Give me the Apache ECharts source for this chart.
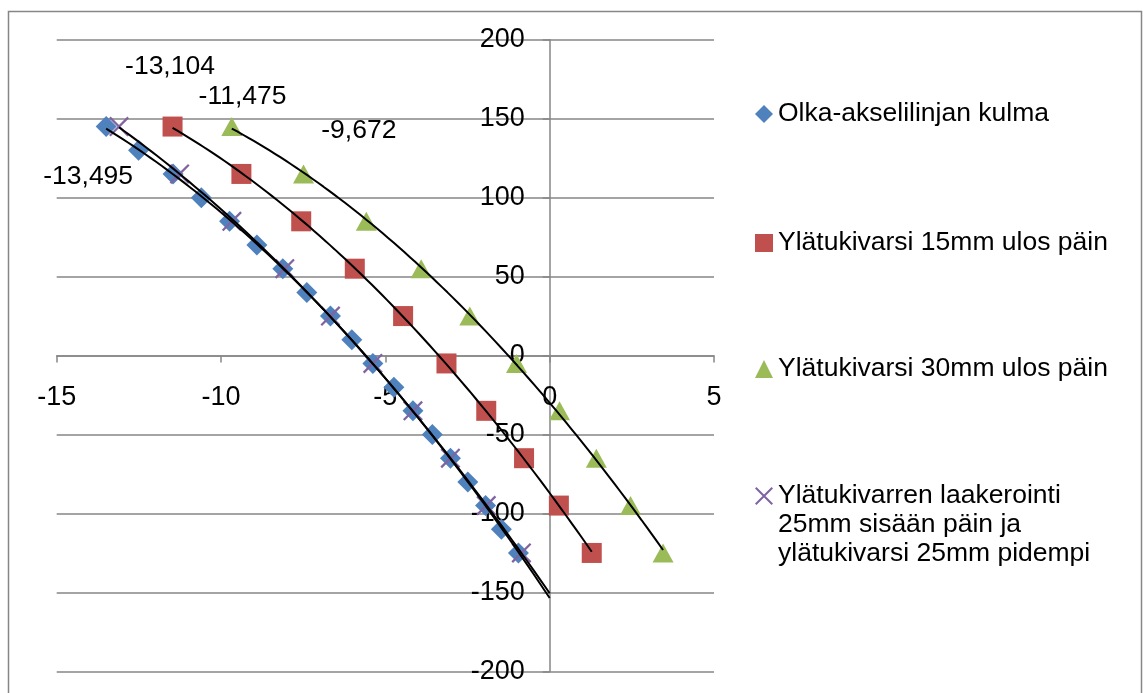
<!DOCTYPE html>
<html>
<head>
<meta charset="utf-8">
<script src="https://cdn.jsdelivr.net/npm/echarts@6/dist/echarts.min.js"></script>
<style>
  html, body { margin: 0; padding: 0; background: #fff; }
  #chart { width: 1143px; height: 693px; }
</style>
</head>
<body>
<div id="chart"></div>
<script>
// ---- Data ----
const seriesNames = [
  'Olka-akselilinjan kulma',
  'Ylätukivarsi 15mm ulos päin',
  'Ylätukivarsi 30mm ulos päin',
  'Ylätukivarren laakerointi\n25mm sisään päin ja\nylätukivarsi 25mm pidempi'
];
const yDense = [145, 130, 115, 100, 85, 70, 55, 40, 25, 10, -5, -20, -35, -50, -65, -80, -95, -110, -125];
const xBlue = [-13.495, -12.51, -11.46, -10.60, -9.74, -8.91, -8.12, -7.39, -6.67, -6.02, -5.38, -4.74, -4.16, -3.57, -3.02, -2.49, -1.95, -1.47, -0.95];
const ySparse = [145, 115, 85, 55, 25, -5, -35, -65, -95, -125];
const xRed = [-11.475, -9.38, -7.56, -5.93, -4.46, -3.14, -1.93, -0.78, 0.28, 1.28];
const xGreen = [-9.672, -7.49, -5.58, -3.91, -2.43, -1.01, 0.30, 1.42, 2.46, 3.45];
const xPurple = [-13.104, -11.26, -9.67, -8.06, -6.67, -5.38, -4.16, -3.02, -1.93, -0.86];
// trendline forward forecast end (x) for blue and purple series
const trendEndBlue = 0;
const trendEndPurple = 0;
const xTicks = { min: -15, max: 5, interval: 5 };
const yTicks = { min: -200, max: 200, interval: 50 };

// ---- Helpers ----
const colors = ['#4F81BD', '#C0504D', '#9BBB59', '#8064A2'];
const FONT = 'Liberation Sans, Arial, sans-serif';
const FS = 26.5;
const FS_AXIS = 27;

function polyFit2(xs, ys) {
  let S = [0,0,0,0,0], T = [0,0,0];
  for (let i = 0; i < xs.length; i++) {
    const x = xs[i], y = ys[i];
    let p = 1;
    for (let k = 0; k < 5; k++) { S[k] += p; if (k < 3) T[k] += p * y; p *= x; }
  }
  const M = [[S[0],S[1],S[2],T[0]],[S[1],S[2],S[3],T[1]],[S[2],S[3],S[4],T[2]]];
  for (let i = 0; i < 3; i++) {
    let piv = i;
    for (let r = i+1; r < 3; r++) if (Math.abs(M[r][i]) > Math.abs(M[piv][i])) piv = r;
    [M[i], M[piv]] = [M[piv], M[i]];
    for (let r = 0; r < 3; r++) {
      if (r === i) continue;
      const f = M[r][i] / M[i][i];
      for (let c = i; c < 4; c++) M[r][c] -= f * M[i][c];
    }
  }
  return [M[0][3]/M[0][0], M[1][3]/M[1][1], M[2][3]/M[2][2]];
}
function trend(xs, ys, xEnd) {
  const [a, b, c] = polyFit2(xs, ys);
  const x0 = Math.min(...xs);
  const x1 = xEnd != null ? Math.max(xEnd, Math.max(...xs)) : Math.max(...xs);
  const pts = [];
  const n = 80;
  for (let i = 0; i <= n; i++) {
    const x = x0 + (x1 - x0) * i / n;
    pts.push([x, a + b * x + c * x * x]);
  }
  return pts;
}
const fmtX = p => p.value[0].toFixed(3).replace('.', ',');

function scatterData(xs, ys, labelOffset) {
  return xs.map((x, i) => {
    const item = { value: [x, ys[i]] };
    if (i === 0 && labelOffset) {
      item.label = {
        show: true, position: 'inside', offset: labelOffset,
        formatter: fmtX, fontSize: FS, fontFamily: FONT, color: '#000',
        textBorderWidth: 0, opacity: 1
      };
    }
    return item;
  });
}

const X_PATH = 'path://M0,0.8L0.8,0L10,9.2L9.2,10Z M9.2,0L10,0.8L0.8,10L0,9.2Z';

function trendSeries(data) {
  return {
    type: 'line', data: data, showSymbol: false, symbol: 'none',
    lineStyle: { color: '#000', width: 2 }, itemStyle: { color: '#000' }, z: 5, silent: true
  };
}

// ---- Layout ----
const W = 1143, H = 693;
const G = { left: 56.7, right: 429, top: 39.7, bottom: 21.6 };
const gridW = W - G.left - G.right, gridH = H - G.top - G.bottom;
const xAxisOffset = -gridH * (0 - yTicks.min) / (yTicks.max - yTicks.min);
const yAxisOffset = -gridW * (0 - xTicks.min) / (xTicks.max - xTicks.min);

const LH = 29;
const legendBase = {
  orient: 'vertical', left: 755, itemWidth: 18, itemHeight: 18, itemGap: 0, padding: 0,
  textStyle: { fontSize: FS, fontFamily: FONT, color: '#000', lineHeight: LH },
  selectedMode: false
};

const chart = echarts.init(document.getElementById('chart'));
chart.setOption({
  animation: false,
  backgroundColor: '#fff',
  grid: Object.assign({ containLabel: false, outerBoundsMode: 'none' }, G),
  xAxis: {
    type: 'value', min: xTicks.min, max: xTicks.max, interval: xTicks.interval,
    position: 'bottom', offset: xAxisOffset,
    axisLine: { show: true, onZero: false, lineStyle: { color: '#868686', width: 1.5 } },
    axisTick: { show: true, inside: false, length: 7, lineStyle: { color: '#868686', width: 1.5 } },
    splitLine: { show: false },
    axisLabel: { color: '#000', fontSize: FS_AXIS, fontFamily: FONT, margin: 28 }
  },
  yAxis: {
    type: 'value', min: yTicks.min, max: yTicks.max, interval: yTicks.interval,
    position: 'left', offset: yAxisOffset,
    axisLine: { show: true, onZero: false, lineStyle: { color: '#868686', width: 1.5 } },
    axisTick: { show: true, inside: false, length: 7, lineStyle: { color: '#868686', width: 1.5 } },
    splitLine: { show: true, lineStyle: { color: '#868686', width: 1.5 } },
    axisLabel: { color: '#000', fontSize: FS_AXIS, fontFamily: FONT, margin: 25 }
  },
  legend: [
    Object.assign({}, legendBase, { data: [{ name: seriesNames[0], icon: 'diamond' }], top: 114 - LH / 2 }),
    Object.assign({}, legendBase, { data: [{ name: seriesNames[1], icon: 'rect' }], top: 243 - LH / 2 }),
    Object.assign({}, legendBase, { data: [{ name: seriesNames[2], icon: 'triangle' }], top: 369 - LH / 2 }),
    Object.assign({}, legendBase, {
      data: [{ name: seriesNames[3], icon: X_PATH }], top: 496 - 2.5 * LH,
      formatter: name => '\n\n' + name
    })
  ],
  graphic: [{
    type: 'rect', shape: { x: 8.5, y: 11.5, width: 1133, height: 700 },
    style: { fill: 'none', stroke: '#868686', lineWidth: 1.5 }, silent: true
  }],
  series: [
    { name: seriesNames[0], type: 'scatter', symbol: 'diamond', symbolSize: 21,
      itemStyle: { color: colors[0], opacity: 1 }, data: scatterData(xBlue, yDense, [-18, 50]), z: 2 },
    { name: seriesNames[1], type: 'scatter', symbol: 'rect', symbolSize: 20,
      itemStyle: { color: colors[1], opacity: 1 }, data: scatterData(xRed, ySparse, [70, -30]), z: 2 },
    { name: seriesNames[2], type: 'scatter', symbol: 'triangle', symbolSize: [21, 19],
      itemStyle: { color: colors[2], opacity: 1 }, data: scatterData(xGreen, ySparse, [127, 4]), z: 2 },
    { name: seriesNames[3], type: 'scatter', symbol: X_PATH, symbolSize: 20,
      itemStyle: { color: colors[3], opacity: 1 }, data: scatterData(xPurple, ySparse, [51, -60]), z: 3 },
    trendSeries(trend(xBlue, yDense, trendEndBlue)),
    trendSeries(trend(xRed, ySparse)),
    trendSeries(trend(xGreen, ySparse)),
    trendSeries(trend(xPurple, ySparse, trendEndPurple))
  ]
});
</script>
</body>
</html>
